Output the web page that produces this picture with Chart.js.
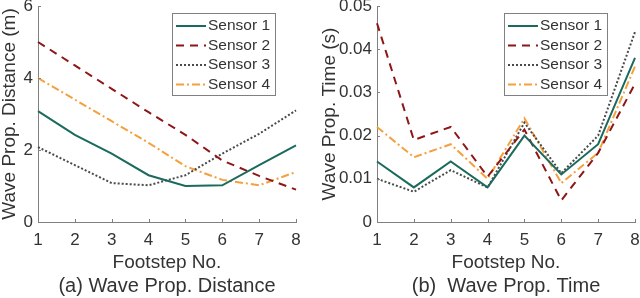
<!DOCTYPE html>
<html>
<head>
<meta charset="utf-8">
<script src="https://cdn.jsdelivr.net/npm/chart.js@4.4.0/dist/chart.umd.min.js"></script>
<style>
body { margin: 0; background: #fff; }
.box { position: absolute; top: 0; width: 320px; height: 298px; }
</style>
</head>
<body>
<div class="box" style="left:0"><canvas id="distChart" width="320" height="298"></canvas></div>
<div class="box" style="left:320px"><canvas id="timeChart" width="320" height="298"></canvas></div>
<script>
// data
const footsteps = ["1", "2", "3", "4", "5", "6", "7", "8"];
const sensorNames = ["Sensor 1", "Sensor 2", "Sensor 3", "Sensor 4"];

const dist1 = [3.08, 2.42, 1.9, 1.3, 1.0, 1.02, 1.58, 2.13];
const dist2 = [5.0, 4.35, 3.7, 3.05, 2.42, 1.71, 1.28, 0.9];
const dist3 = [2.08, 1.58, 1.08, 1.02, 1.3, 1.9, 2.45, 3.1];
const dist4 = [4.0, 3.4, 2.8, 2.2, 1.55, 1.17, 1.02, 1.39];

const time1 = [0.014, 0.008, 0.014, 0.008, 0.020, 0.011, 0.018, 0.038];
const time2 = [0.046, 0.019, 0.022, 0.0105, 0.0214, 0.005, 0.016, 0.032];
const time3 = [0.010, 0.007, 0.012, 0.008, 0.023, 0.0113, 0.020, 0.044];
const time4 = [0.022, 0.015, 0.018, 0.010, 0.024, 0.009, 0.016, 0.036];

const distTicks = [0, 2, 4, 6];
const timeTicks = [0, 0.01, 0.02, 0.03, 0.04, 0.05];

const colors = ["#1b6a5e", "#8e1616", "#4a4a4a", "#f5a03e"];
const dashes = [[], [8, 6], [2, 2], [8, 3, 2, 3]];
const fontFam = "'Liberation Sans', Arial, sans-serif";
const textCol = "#333";
const axisCol = "#808080";

function makeSets(arrs)
{
  return arrs.map((d, i) => ({
    label: sensorNames[i],
    data: d,
    borderColor: colors[i],
    borderDash: dashes[i],
    borderWidth: 2,
    pointRadius: 0,
    tension: 0,
    fill: false,
  }));
}

// small inward tick marks like matlab
const inwardTicks = {
  id: "inwardTicks",
  afterDatasetsDraw(chart) {
    const ctx = chart.ctx, a = chart.chartArea;
    const xs = chart.scales.x, ys = chart.scales.y;
    ctx.save();
    ctx.strokeStyle = axisCol;
    ctx.lineWidth = 1;
    ctx.beginPath();
    xs.ticks.forEach((t, i) => {
      const px = Math.round(xs.getPixelForTick(i)) + 0.5;
      ctx.moveTo(px, a.bottom);
      ctx.lineTo(px, a.bottom - 3);
    });
    ys.ticks.forEach((t, i) => {
      const py = Math.round(ys.getPixelForTick(i)) + 0.5;
      ctx.moveTo(a.left, py);
      ctx.lineTo(a.left + 3, py);
    });
    ctx.stroke();
    ctx.restore();
  }
};

// boxed legend inside the plot
const boxLegend = {
  id: "boxLegend",
  afterDraw(chart, args, opts) {
    const ctx = chart.ctx;
    ctx.save();
    ctx.fillStyle = "#fff";
    ctx.fillRect(opts.x, opts.y, opts.w, opts.h);
    ctx.strokeStyle = axisCol;
    ctx.lineWidth = 1;
    ctx.strokeRect(opts.x + 0.5, opts.y + 0.5, opts.w, opts.h);
    ctx.font = "15.5px " + fontFam;
    ctx.textBaseline = "middle";
    chart.data.datasets.forEach((ds, i) => {
      const yy = opts.y + 13 + i * 19.5;
      ctx.strokeStyle = ds.borderColor;
      ctx.lineWidth = 2;
      ctx.setLineDash(ds.borderDash);
      ctx.beginPath();
      ctx.moveTo(opts.x + 4, yy);
      ctx.lineTo(opts.x + 34, yy);
      ctx.stroke();
      ctx.setLineDash([]);
      ctx.fillStyle = textCol;
      ctx.fillText(ds.label, opts.x + 36, yy);
    });
    ctx.restore();
  }
};

function makeChart(id, sets, yTicks, yTitle, caption, yWidth, padRight, legendX, fmt)
{
  new Chart(id, {
    type: "line",
    data: { labels: footsteps, datasets: sets },
    plugins: [inwardTicks, boxLegend],
    options: {
      responsive: false,
      animation: false,
      layout: { padding: { top: 6, right: padRight, left: 0, bottom: 0 } },
      plugins: {
        legend: { display: false },
        tooltip: { enabled: false },
        title: {
          display: true,
          text: caption,
          position: "bottom",
          fullSize: false,
          color: textCol,
          font: { family: fontFam, size: 20, weight: "normal", lineHeight: 1.15 },
          padding: 0,
        },
        boxLegend: { x: legendX, y: 13, w: 103, h: 82 },
      },
      scales: {
        x: {
          offset: false,
          grid: { display: false, drawTicks: false },
          border: { display: true, color: axisCol },
          ticks: { color: textCol, font: { family: fontFam, size: 17 }, padding: 8, maxRotation: 0 },
          title: { display: true, text: "Footstep No.", color: textCol,
                   font: { family: fontFam, size: 19, lineHeight: 1 }, padding: { top: 0, bottom: 3 } },
          afterFit(s) { s.height = 53; s.paddingLeft = 0; s.paddingRight = 0; },
        },
        y: {
          min: yTicks[0],
          max: yTicks[yTicks.length - 1],
          grid: { display: false, drawTicks: false },
          border: { display: true, color: axisCol },
          afterBuildTicks(s) { s.ticks = yTicks.map(v => ({ value: v })); },
          ticks: { color: textCol, font: { family: fontFam, size: 17 }, padding: 5, callback: fmt },
          title: { display: true, text: yTitle, color: textCol,
                   font: { family: fontFam, size: 19, lineHeight: 1 }, padding: { top: 0, bottom: 0 } },
          afterFit(s) { s.width = yWidth; s.paddingTop = 0; s.paddingBottom = 0; },
        },
      },
    },
  });
}

makeChart("distChart", makeSets([dist1, dist2, dist3, dist4]), distTicks,
  "Wave Prop. Distance (m)", "(a) Wave Prop. Distance", 38, 24, 172,
  v => String(v));

makeChart("timeChart", makeSets([time1, time2, time3, time4]), timeTicks,
  "Wave Prop. Time (s)", "(b)  Wave Prop. Time", 57, 5, 184,
  v => (v === 0 ? "0" : v.toFixed(2)));
</script>
</body>
</html>
